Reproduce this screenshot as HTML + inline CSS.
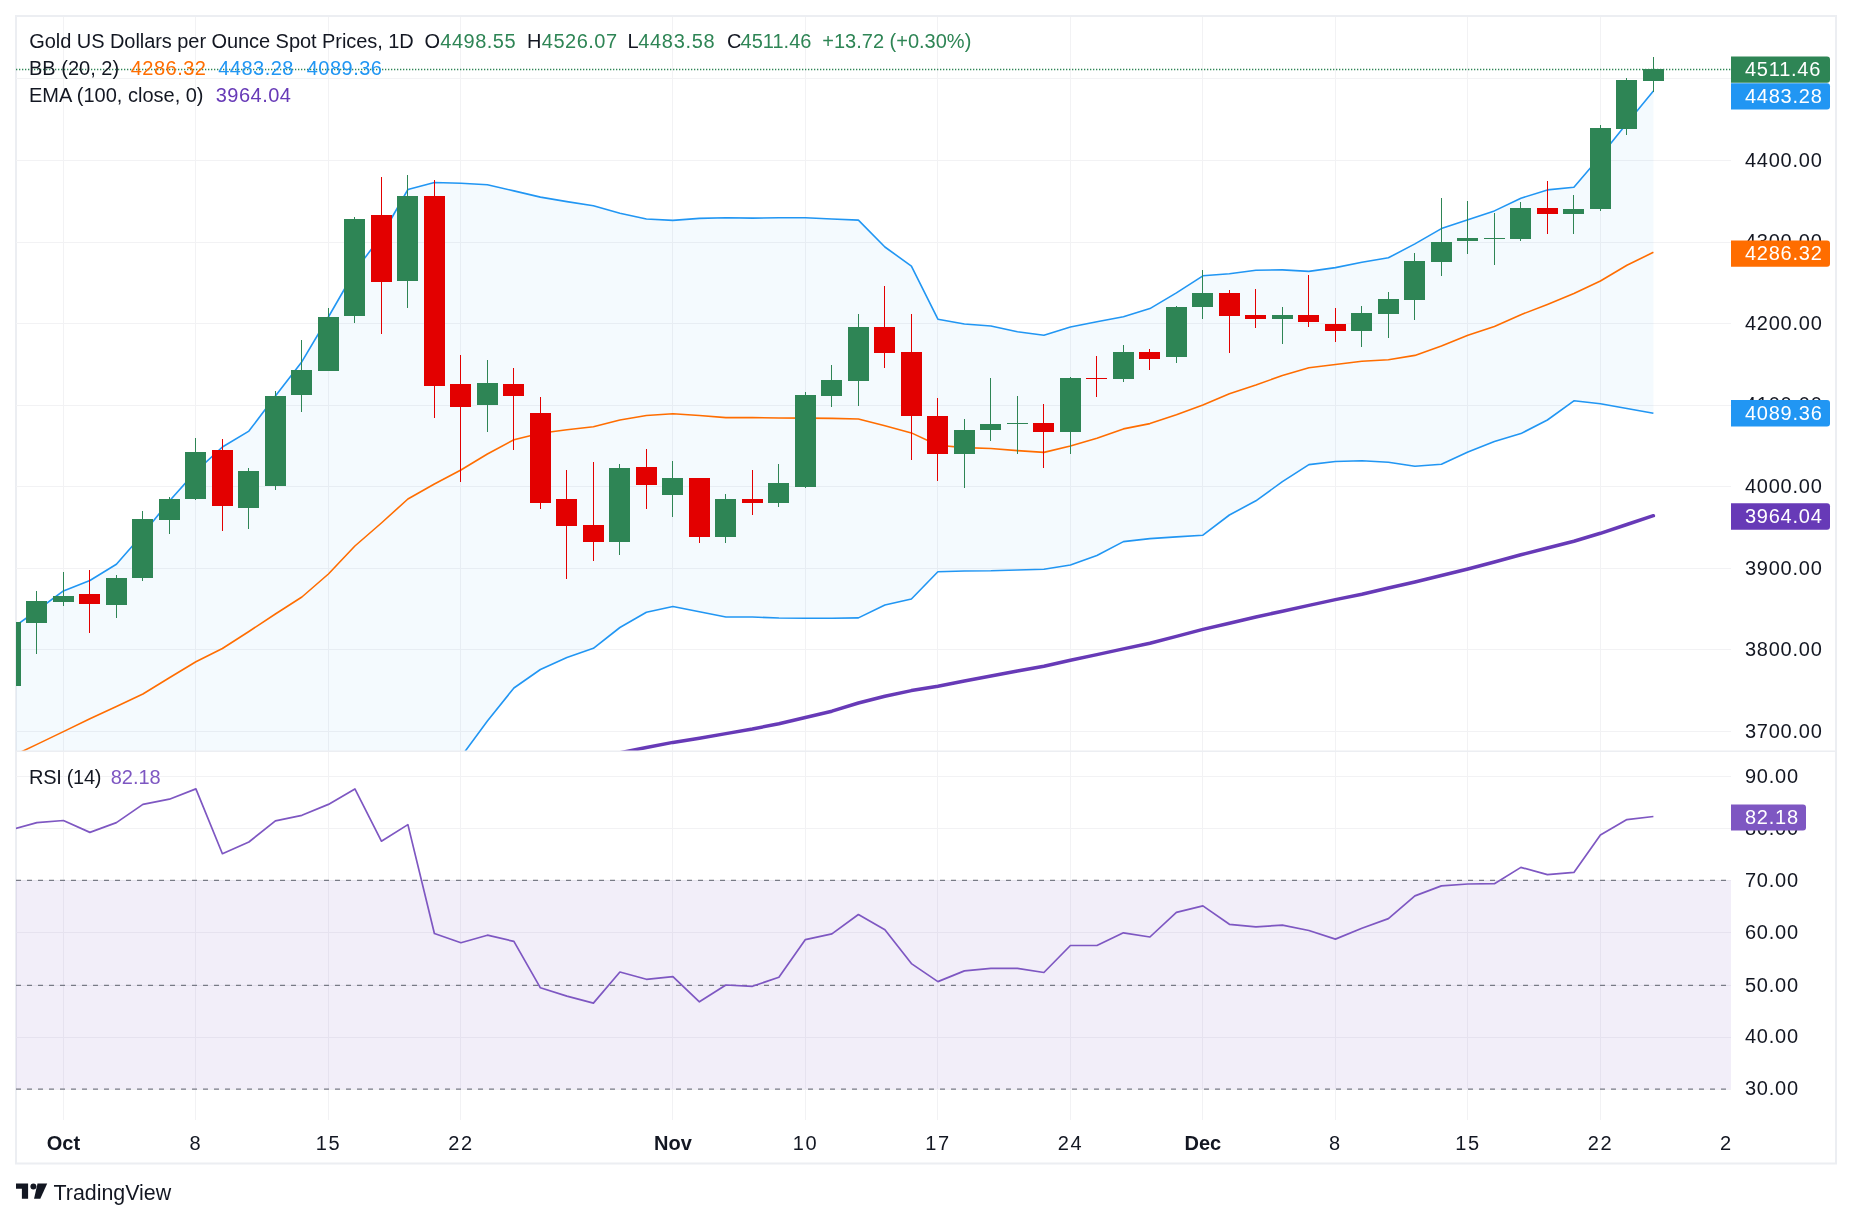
<!DOCTYPE html>
<html><head><meta charset="utf-8"><title>Gold US Dollars per Ounce Spot Prices, 1D - TradingView</title>
<style>html,body{margin:0;padding:0;background:#fff;}svg{display:block;will-change:transform;}</style></head>
<body>
<svg width="1852" height="1220" viewBox="0 0 1852 1220">
<defs><clipPath id="cm"><rect x="16" y="17" width="1715" height="734"/></clipPath>
<clipPath id="cr"><rect x="16" y="752" width="1715" height="368"/></clipPath></defs>
<rect width="1852" height="1220" fill="#fff"/>
<rect x="15" y="15" width="1822" height="2" fill="#ECEEF2"/>
<rect x="15" y="1162.5" width="1822" height="2" fill="#ECEEF2"/>
<rect x="15" y="15" width="2" height="1149" fill="#ECEEF2"/>
<rect x="1835" y="15" width="2" height="1149" fill="#ECEEF2"/>
<rect x="63" y="17" width="1" height="734" fill="#F2F2F4"/>
<rect x="63" y="752" width="1" height="368" fill="#F2F2F4"/>
<rect x="195" y="17" width="1" height="734" fill="#F2F2F4"/>
<rect x="195" y="752" width="1" height="368" fill="#F2F2F4"/>
<rect x="328" y="17" width="1" height="734" fill="#F2F2F4"/>
<rect x="328" y="752" width="1" height="368" fill="#F2F2F4"/>
<rect x="460" y="17" width="1" height="734" fill="#F2F2F4"/>
<rect x="460" y="752" width="1" height="368" fill="#F2F2F4"/>
<rect x="672" y="17" width="1" height="734" fill="#F2F2F4"/>
<rect x="672" y="752" width="1" height="368" fill="#F2F2F4"/>
<rect x="805" y="17" width="1" height="734" fill="#F2F2F4"/>
<rect x="805" y="752" width="1" height="368" fill="#F2F2F4"/>
<rect x="937" y="17" width="1" height="734" fill="#F2F2F4"/>
<rect x="937" y="752" width="1" height="368" fill="#F2F2F4"/>
<rect x="1070" y="17" width="1" height="734" fill="#F2F2F4"/>
<rect x="1070" y="752" width="1" height="368" fill="#F2F2F4"/>
<rect x="1202" y="17" width="1" height="734" fill="#F2F2F4"/>
<rect x="1202" y="752" width="1" height="368" fill="#F2F2F4"/>
<rect x="1335" y="17" width="1" height="734" fill="#F2F2F4"/>
<rect x="1335" y="752" width="1" height="368" fill="#F2F2F4"/>
<rect x="1467" y="17" width="1" height="734" fill="#F2F2F4"/>
<rect x="1467" y="752" width="1" height="368" fill="#F2F2F4"/>
<rect x="1600" y="17" width="1" height="734" fill="#F2F2F4"/>
<rect x="1600" y="752" width="1" height="368" fill="#F2F2F4"/>
<rect x="16" y="78" width="1715" height="1" fill="#F2F2F4"/>
<rect x="16" y="160" width="1715" height="1" fill="#F2F2F4"/>
<rect x="16" y="242" width="1715" height="1" fill="#F2F2F4"/>
<rect x="16" y="323" width="1715" height="1" fill="#F2F2F4"/>
<rect x="16" y="405" width="1715" height="1" fill="#F2F2F4"/>
<rect x="16" y="486" width="1715" height="1" fill="#F2F2F4"/>
<rect x="16" y="568" width="1715" height="1" fill="#F2F2F4"/>
<rect x="16" y="649" width="1715" height="1" fill="#F2F2F4"/>
<rect x="16" y="731" width="1715" height="1" fill="#F2F2F4"/>
<g clip-path="url(#cm)">
<polygon points="10.4,629.5 36.9,610.5 63.4,590.9 89.9,580.5 116.4,564.3 142.9,534.0 169.4,501.0 195.9,471.4 222.4,447.0 248.9,431.1 275.4,396.1 301.9,361.7 328.4,317.0 354.9,271.0 381.4,236.0 407.9,189.5 434.4,182.5 460.9,183.3 487.4,184.7 513.9,190.9 540.4,197.1 566.9,201.6 593.4,205.8 619.9,213.3 646.4,219.0 672.9,220.4 699.4,218.4 725.9,217.8 752.4,218.1 778.9,217.8 805.4,217.8 831.9,219.0 858.4,220.1 884.9,247.0 911.4,266.1 937.9,319.2 964.4,324.0 990.9,326.0 1017.4,331.7 1043.9,335.3 1070.4,327.0 1096.9,321.8 1123.4,316.8 1149.9,308.6 1176.4,292.9 1202.9,275.8 1229.4,273.7 1255.9,270.2 1282.4,269.9 1308.9,271.4 1335.4,267.6 1361.9,262.2 1388.4,257.8 1414.9,243.9 1441.4,228.6 1467.9,219.7 1494.4,210.9 1520.9,198.2 1547.4,189.9 1573.9,187.3 1600.4,156.2 1626.9,123.2 1653.4,91.0 1653.4,413.3 1626.9,408.5 1600.4,403.8 1573.9,400.8 1547.4,420.0 1520.9,433.6 1494.4,441.5 1467.9,451.9 1441.4,464.2 1414.9,466.3 1388.4,462.2 1361.9,460.7 1335.4,461.5 1308.9,464.6 1282.4,481.7 1255.9,500.8 1229.4,515.0 1202.9,535.2 1176.4,536.9 1149.9,538.6 1123.4,541.6 1096.9,555.5 1070.4,565.0 1043.9,569.2 1017.4,570.0 990.9,570.8 964.4,571.0 937.9,571.7 911.4,599.0 884.9,605.0 858.4,617.9 831.9,618.3 805.4,618.2 778.9,618.0 752.4,617.0 725.9,617.0 699.4,611.7 672.9,606.5 646.4,612.2 619.9,627.5 593.4,648.3 566.9,657.4 540.4,669.5 513.9,688.0 487.4,721.0 460.9,757.0 434.4,790.0 407.9,800.0 381.4,820.0 354.9,840.0 328.4,860.0 301.9,880.0 275.4,900.0 248.9,920.0 222.4,940.0 195.9,960.0 169.4,980.0 142.9,1000.0 116.4,1020.0 89.9,1040.0 63.4,1060.0 36.9,1080.0 10.4,1100.0" fill="#2196F3" fill-opacity="0.05"/>
<polyline points="10.4,629.5 36.9,610.5 63.4,590.9 89.9,580.5 116.4,564.3 142.9,534.0 169.4,501.0 195.9,471.4 222.4,447.0 248.9,431.1 275.4,396.1 301.9,361.7 328.4,317.0 354.9,271.0 381.4,236.0 407.9,189.5 434.4,182.5 460.9,183.3 487.4,184.7 513.9,190.9 540.4,197.1 566.9,201.6 593.4,205.8 619.9,213.3 646.4,219.0 672.9,220.4 699.4,218.4 725.9,217.8 752.4,218.1 778.9,217.8 805.4,217.8 831.9,219.0 858.4,220.1 884.9,247.0 911.4,266.1 937.9,319.2 964.4,324.0 990.9,326.0 1017.4,331.7 1043.9,335.3 1070.4,327.0 1096.9,321.8 1123.4,316.8 1149.9,308.6 1176.4,292.9 1202.9,275.8 1229.4,273.7 1255.9,270.2 1282.4,269.9 1308.9,271.4 1335.4,267.6 1361.9,262.2 1388.4,257.8 1414.9,243.9 1441.4,228.6 1467.9,219.7 1494.4,210.9 1520.9,198.2 1547.4,189.9 1573.9,187.3 1600.4,156.2 1626.9,123.2 1653.4,91.0" fill="none" stroke="#2196F3" stroke-width="1.6" stroke-linejoin="round"/>
<polyline points="10.4,1100.0 36.9,1080.0 63.4,1060.0 89.9,1040.0 116.4,1020.0 142.9,1000.0 169.4,980.0 195.9,960.0 222.4,940.0 248.9,920.0 275.4,900.0 301.9,880.0 328.4,860.0 354.9,840.0 381.4,820.0 407.9,800.0 434.4,790.0 460.9,757.0 487.4,721.0 513.9,688.0 540.4,669.5 566.9,657.4 593.4,648.3 619.9,627.5 646.4,612.2 672.9,606.5 699.4,611.7 725.9,617.0 752.4,617.0 778.9,618.0 805.4,618.2 831.9,618.3 858.4,617.9 884.9,605.0 911.4,599.0 937.9,571.7 964.4,571.0 990.9,570.8 1017.4,570.0 1043.9,569.2 1070.4,565.0 1096.9,555.5 1123.4,541.6 1149.9,538.6 1176.4,536.9 1202.9,535.2 1229.4,515.0 1255.9,500.8 1282.4,481.7 1308.9,464.6 1335.4,461.5 1361.9,460.7 1388.4,462.2 1414.9,466.3 1441.4,464.2 1467.9,451.9 1494.4,441.5 1520.9,433.6 1547.4,420.0 1573.9,400.8 1600.4,403.8 1626.9,408.5 1653.4,413.3" fill="none" stroke="#2196F3" stroke-width="1.6" stroke-linejoin="round"/>
<polyline points="10.4,757.0 36.9,744.4 63.4,731.6 89.9,718.8 116.4,706.5 142.9,694.0 169.4,677.8 195.9,661.8 222.4,648.5 248.9,631.5 275.4,614.0 301.9,597.0 328.4,574.0 354.9,546.0 381.4,523.0 407.9,499.0 434.4,484.0 460.9,470.0 487.4,454.0 513.9,439.7 540.4,433.2 566.9,429.7 593.4,426.8 619.9,420.0 646.4,415.5 672.9,413.8 699.4,415.5 725.9,417.6 752.4,417.6 778.9,418.0 805.4,418.1 831.9,418.4 858.4,419.0 884.9,425.8 911.4,432.9 937.9,445.3 964.4,447.6 990.9,448.5 1017.4,450.6 1043.9,452.4 1070.4,446.0 1096.9,438.3 1123.4,428.9 1149.9,423.6 1176.4,414.8 1202.9,405.0 1229.4,393.8 1255.9,385.0 1282.4,375.5 1308.9,367.8 1335.4,364.5 1361.9,361.3 1388.4,359.8 1414.9,355.4 1441.4,346.0 1467.9,335.3 1494.4,326.5 1520.9,314.7 1547.4,304.4 1573.9,293.5 1600.4,281.0 1626.9,265.2 1653.4,252.3" fill="none" stroke="#FF6D00" stroke-width="1.6" stroke-linejoin="round"/>
<polyline points="566.9,763.0 593.4,757.8 619.9,752.8 646.4,747.5 672.9,742.4 699.4,738.3 725.9,733.6 752.4,729.0 778.9,723.7 805.4,717.5 831.9,711.2 858.4,703.0 884.9,696.2 911.4,690.6 937.9,686.2 964.4,681.0 990.9,676.0 1017.4,671.0 1043.9,666.2 1070.4,660.3 1096.9,654.6 1123.4,648.9 1149.9,643.3 1176.4,636.4 1202.9,629.4 1229.4,623.2 1255.9,617.0 1282.4,611.2 1308.9,605.4 1335.4,599.6 1361.9,594.2 1388.4,588.0 1414.9,582.0 1441.4,575.5 1467.9,569.0 1494.4,562.0 1520.9,554.8 1547.4,548.0 1573.9,541.3 1600.4,533.3 1626.9,524.5 1653.4,515.7" fill="none" stroke="#673AB7" stroke-width="3.5" stroke-linejoin="round" stroke-linecap="round"/>
<rect x="10" y="618" width="1" height="72" fill="#2E8555"/>
<rect x="0" y="622" width="21" height="64" fill="#2E8555"/>
<rect x="36" y="591" width="1" height="63" fill="#2E8555"/>
<rect x="26" y="601" width="21" height="22" fill="#2E8555"/>
<rect x="63" y="572" width="1" height="34" fill="#2E8555"/>
<rect x="53" y="596" width="21" height="6" fill="#2E8555"/>
<rect x="89" y="570" width="1" height="63" fill="#E30000"/>
<rect x="79" y="594" width="21" height="10" fill="#E30000"/>
<rect x="116" y="575" width="1" height="43" fill="#2E8555"/>
<rect x="106" y="578" width="21" height="27" fill="#2E8555"/>
<rect x="142" y="511" width="1" height="70" fill="#2E8555"/>
<rect x="132" y="519" width="21" height="59" fill="#2E8555"/>
<rect x="169" y="497" width="1" height="37" fill="#2E8555"/>
<rect x="159" y="499" width="21" height="21" fill="#2E8555"/>
<rect x="195" y="438" width="1" height="62" fill="#2E8555"/>
<rect x="185" y="452" width="21" height="47" fill="#2E8555"/>
<rect x="222" y="439" width="1" height="92" fill="#E30000"/>
<rect x="212" y="450" width="21" height="56" fill="#E30000"/>
<rect x="248" y="468" width="1" height="61" fill="#2E8555"/>
<rect x="238" y="471" width="21" height="37" fill="#2E8555"/>
<rect x="275" y="391" width="1" height="99" fill="#2E8555"/>
<rect x="265" y="396" width="21" height="90" fill="#2E8555"/>
<rect x="301" y="340" width="1" height="72" fill="#2E8555"/>
<rect x="291" y="370" width="21" height="25" fill="#2E8555"/>
<rect x="328" y="308" width="1" height="63" fill="#2E8555"/>
<rect x="318" y="317" width="21" height="54" fill="#2E8555"/>
<rect x="354" y="217" width="1" height="106" fill="#2E8555"/>
<rect x="344" y="219" width="21" height="97" fill="#2E8555"/>
<rect x="381" y="177" width="1" height="157" fill="#E30000"/>
<rect x="371" y="215" width="21" height="67" fill="#E30000"/>
<rect x="407" y="175" width="1" height="133" fill="#2E8555"/>
<rect x="397" y="196" width="21" height="85" fill="#2E8555"/>
<rect x="434" y="180" width="1" height="238" fill="#E30000"/>
<rect x="424" y="196" width="21" height="190" fill="#E30000"/>
<rect x="460" y="355" width="1" height="127" fill="#E30000"/>
<rect x="450" y="384" width="21" height="23" fill="#E30000"/>
<rect x="487" y="360" width="1" height="72" fill="#2E8555"/>
<rect x="477" y="383" width="21" height="22" fill="#2E8555"/>
<rect x="513" y="368" width="1" height="82" fill="#E30000"/>
<rect x="503" y="384" width="21" height="12" fill="#E30000"/>
<rect x="540" y="397" width="1" height="112" fill="#E30000"/>
<rect x="530" y="413" width="21" height="90" fill="#E30000"/>
<rect x="566" y="470" width="1" height="109" fill="#E30000"/>
<rect x="556" y="499" width="21" height="27" fill="#E30000"/>
<rect x="593" y="462" width="1" height="99" fill="#E30000"/>
<rect x="583" y="525" width="21" height="17" fill="#E30000"/>
<rect x="619" y="464" width="1" height="91" fill="#2E8555"/>
<rect x="609" y="468" width="21" height="74" fill="#2E8555"/>
<rect x="646" y="449" width="1" height="60" fill="#E30000"/>
<rect x="636" y="467" width="21" height="18" fill="#E30000"/>
<rect x="672" y="461" width="1" height="56" fill="#2E8555"/>
<rect x="662" y="478" width="21" height="17" fill="#2E8555"/>
<rect x="699" y="478" width="1" height="65" fill="#E30000"/>
<rect x="689" y="478" width="21" height="59" fill="#E30000"/>
<rect x="725" y="494" width="1" height="49" fill="#2E8555"/>
<rect x="715" y="499" width="21" height="38" fill="#2E8555"/>
<rect x="752" y="470" width="1" height="45" fill="#E30000"/>
<rect x="742" y="499" width="21" height="4" fill="#E30000"/>
<rect x="778" y="464" width="1" height="43" fill="#2E8555"/>
<rect x="768" y="483" width="21" height="20" fill="#2E8555"/>
<rect x="805" y="392" width="1" height="96" fill="#2E8555"/>
<rect x="795" y="395" width="21" height="92" fill="#2E8555"/>
<rect x="831" y="365" width="1" height="42" fill="#2E8555"/>
<rect x="821" y="380" width="21" height="16" fill="#2E8555"/>
<rect x="858" y="314" width="1" height="92" fill="#2E8555"/>
<rect x="848" y="327" width="21" height="54" fill="#2E8555"/>
<rect x="884" y="286" width="1" height="82" fill="#E30000"/>
<rect x="874" y="327" width="21" height="26" fill="#E30000"/>
<rect x="911" y="314" width="1" height="146" fill="#E30000"/>
<rect x="901" y="352" width="21" height="64" fill="#E30000"/>
<rect x="937" y="398" width="1" height="83" fill="#E30000"/>
<rect x="927" y="416" width="21" height="38" fill="#E30000"/>
<rect x="964" y="419" width="1" height="69" fill="#2E8555"/>
<rect x="954" y="430" width="21" height="24" fill="#2E8555"/>
<rect x="990" y="378" width="1" height="63" fill="#2E8555"/>
<rect x="980" y="424" width="21" height="6" fill="#2E8555"/>
<rect x="1017" y="396" width="1" height="58" fill="#2E8555"/>
<rect x="1007" y="423" width="21" height="1" fill="#2E8555"/>
<rect x="1043" y="404" width="1" height="64" fill="#E30000"/>
<rect x="1033" y="423" width="21" height="9" fill="#E30000"/>
<rect x="1070" y="377" width="1" height="77" fill="#2E8555"/>
<rect x="1060" y="378" width="21" height="54" fill="#2E8555"/>
<rect x="1096" y="356" width="1" height="41" fill="#E30000"/>
<rect x="1086" y="378" width="21" height="1" fill="#E30000"/>
<rect x="1123" y="345" width="1" height="37" fill="#2E8555"/>
<rect x="1113" y="352" width="21" height="27" fill="#2E8555"/>
<rect x="1149" y="349" width="1" height="21" fill="#E30000"/>
<rect x="1139" y="352" width="21" height="7" fill="#E30000"/>
<rect x="1176" y="306" width="1" height="57" fill="#2E8555"/>
<rect x="1166" y="307" width="21" height="50" fill="#2E8555"/>
<rect x="1202" y="270" width="1" height="49" fill="#2E8555"/>
<rect x="1192" y="293" width="21" height="14" fill="#2E8555"/>
<rect x="1229" y="290" width="1" height="63" fill="#E30000"/>
<rect x="1219" y="293" width="21" height="23" fill="#E30000"/>
<rect x="1255" y="289" width="1" height="39" fill="#E30000"/>
<rect x="1245" y="315" width="21" height="4" fill="#E30000"/>
<rect x="1282" y="307" width="1" height="37" fill="#2E8555"/>
<rect x="1272" y="315" width="21" height="4" fill="#2E8555"/>
<rect x="1308" y="275" width="1" height="52" fill="#E30000"/>
<rect x="1298" y="315" width="21" height="7" fill="#E30000"/>
<rect x="1335" y="308" width="1" height="34" fill="#E30000"/>
<rect x="1325" y="324" width="21" height="7" fill="#E30000"/>
<rect x="1361" y="306" width="1" height="41" fill="#2E8555"/>
<rect x="1351" y="313" width="21" height="18" fill="#2E8555"/>
<rect x="1388" y="292" width="1" height="46" fill="#2E8555"/>
<rect x="1378" y="299" width="21" height="15" fill="#2E8555"/>
<rect x="1414" y="253" width="1" height="67" fill="#2E8555"/>
<rect x="1404" y="261" width="21" height="39" fill="#2E8555"/>
<rect x="1441" y="198" width="1" height="78" fill="#2E8555"/>
<rect x="1431" y="242" width="21" height="20" fill="#2E8555"/>
<rect x="1467" y="201" width="1" height="53" fill="#2E8555"/>
<rect x="1457" y="238" width="21" height="3" fill="#2E8555"/>
<rect x="1494" y="213" width="1" height="52" fill="#2E8555"/>
<rect x="1484" y="238" width="21" height="1" fill="#2E8555"/>
<rect x="1520" y="202" width="1" height="39" fill="#2E8555"/>
<rect x="1510" y="208" width="21" height="31" fill="#2E8555"/>
<rect x="1547" y="181" width="1" height="53" fill="#E30000"/>
<rect x="1537" y="208" width="21" height="6" fill="#E30000"/>
<rect x="1573" y="195" width="1" height="39" fill="#2E8555"/>
<rect x="1563" y="209" width="21" height="5" fill="#2E8555"/>
<rect x="1600" y="125" width="1" height="86" fill="#2E8555"/>
<rect x="1590" y="128" width="21" height="81" fill="#2E8555"/>
<rect x="1626" y="78" width="1" height="57" fill="#2E8555"/>
<rect x="1616" y="80" width="21" height="49" fill="#2E8555"/>
<rect x="1653" y="57" width="1" height="35" fill="#2E8555"/>
<rect x="1643" y="69" width="21" height="12" fill="#2E8555"/>
</g>
<line x1="16" y1="69.5" x2="1731" y2="69.5" stroke="#2E8555" stroke-width="1.3" stroke-dasharray="1.3 1.7"/>
<rect x="16" y="776" width="1715" height="1" fill="#F2F2F4"/>
<rect x="16" y="828" width="1715" height="1" fill="#F2F2F4"/>
<rect x="16" y="880" width="1715" height="1" fill="#F2F2F4"/>
<rect x="16" y="932" width="1715" height="1" fill="#F2F2F4"/>
<rect x="16" y="985" width="1715" height="1" fill="#F2F2F4"/>
<rect x="16" y="1037" width="1715" height="1" fill="#F2F2F4"/>
<rect x="16" y="1089" width="1715" height="1" fill="#F2F2F4"/>
<rect x="16" y="880.3" width="1715" height="208.8" fill="#7E57C2" fill-opacity="0.1"/>
<line x1="16" y1="880.3" x2="1731" y2="880.3" stroke="#787B86" stroke-width="1.2" stroke-dasharray="5 6"/>
<line x1="16" y1="985.4" x2="1731" y2="985.4" stroke="#787B86" stroke-width="1.2" stroke-dasharray="5 6"/>
<line x1="16" y1="1089.1" x2="1731" y2="1089.1" stroke="#787B86" stroke-width="1.2" stroke-dasharray="5 6"/>
<g clip-path="url(#cr)">
<polyline points="10.4,830.0 36.9,822.6 63.4,820.5 89.9,832.4 116.4,822.6 142.9,804.4 169.4,799.2 195.9,788.9 222.4,853.7 248.9,842.0 275.4,820.8 301.9,815.3 328.4,804.4 354.9,788.9 381.4,841.2 407.9,824.6 434.4,933.5 460.9,942.7 487.4,935.2 513.9,941.4 540.4,987.8 566.9,996.1 593.4,1003.1 619.9,972.0 646.4,979.3 672.9,976.7 699.4,1001.8 725.9,985.0 752.4,986.3 778.9,977.2 805.4,939.6 831.9,933.9 858.4,914.5 884.9,929.8 911.4,963.6 937.9,981.6 964.4,970.9 990.9,968.3 1017.4,968.3 1043.9,972.5 1070.4,945.5 1096.9,945.5 1123.4,932.8 1149.9,937.0 1176.4,912.4 1202.9,905.9 1229.4,924.3 1255.9,926.9 1282.4,925.1 1308.9,930.5 1335.4,939.1 1361.9,928.2 1388.4,918.6 1414.9,895.9 1441.4,885.9 1467.9,884.0 1494.4,883.7 1520.9,867.4 1547.4,874.6 1573.9,872.4 1600.4,835.1 1626.9,819.6 1653.4,816.5" fill="none" stroke="#7E57C2" stroke-width="1.7" stroke-linejoin="round"/>
</g>
<rect x="15" y="750.5" width="1822" height="1.5" fill="#ECEEF2"/>
<text x="1745" y="166.7" font-family="'Liberation Sans', Arial, sans-serif" font-size="20" fill="#131722" text-anchor="start" font-weight="normal" letter-spacing="0.75">4400.00</text>
<text x="1745" y="248.3" font-family="'Liberation Sans', Arial, sans-serif" font-size="20" fill="#131722" text-anchor="start" font-weight="normal" letter-spacing="0.75">4300.00</text>
<text x="1745" y="329.9" font-family="'Liberation Sans', Arial, sans-serif" font-size="20" fill="#131722" text-anchor="start" font-weight="normal" letter-spacing="0.75">4200.00</text>
<text x="1745" y="411.4" font-family="'Liberation Sans', Arial, sans-serif" font-size="20" fill="#131722" text-anchor="start" font-weight="normal" letter-spacing="0.75">4100.00</text>
<text x="1745" y="493.0" font-family="'Liberation Sans', Arial, sans-serif" font-size="20" fill="#131722" text-anchor="start" font-weight="normal" letter-spacing="0.75">4000.00</text>
<text x="1745" y="574.6" font-family="'Liberation Sans', Arial, sans-serif" font-size="20" fill="#131722" text-anchor="start" font-weight="normal" letter-spacing="0.75">3900.00</text>
<text x="1745" y="656.1" font-family="'Liberation Sans', Arial, sans-serif" font-size="20" fill="#131722" text-anchor="start" font-weight="normal" letter-spacing="0.75">3800.00</text>
<text x="1745" y="737.7" font-family="'Liberation Sans', Arial, sans-serif" font-size="20" fill="#131722" text-anchor="start" font-weight="normal" letter-spacing="0.75">3700.00</text>
<text x="1745" y="782.7" font-family="'Liberation Sans', Arial, sans-serif" font-size="20" fill="#131722" text-anchor="start" font-weight="normal" letter-spacing="0.75">90.00</text>
<text x="1745" y="834.6" font-family="'Liberation Sans', Arial, sans-serif" font-size="20" fill="#131722" text-anchor="start" font-weight="normal" letter-spacing="0.75">80.00</text>
<text x="1745" y="886.6" font-family="'Liberation Sans', Arial, sans-serif" font-size="20" fill="#131722" text-anchor="start" font-weight="normal" letter-spacing="0.75">70.00</text>
<text x="1745" y="938.8" font-family="'Liberation Sans', Arial, sans-serif" font-size="20" fill="#131722" text-anchor="start" font-weight="normal" letter-spacing="0.75">60.00</text>
<text x="1745" y="991.7" font-family="'Liberation Sans', Arial, sans-serif" font-size="20" fill="#131722" text-anchor="start" font-weight="normal" letter-spacing="0.75">50.00</text>
<text x="1745" y="1043.3" font-family="'Liberation Sans', Arial, sans-serif" font-size="20" fill="#131722" text-anchor="start" font-weight="normal" letter-spacing="0.75">40.00</text>
<text x="1745" y="1095.4" font-family="'Liberation Sans', Arial, sans-serif" font-size="20" fill="#131722" text-anchor="start" font-weight="normal" letter-spacing="0.75">30.00</text>
<path d="M1731,56.4 H1827 Q1830,56.4 1830,59.4 V79.8 Q1830,82.8 1827,82.8 H1731 Z" fill="#2E8555"/><text x="1745" y="75.9" font-family="'Liberation Sans', Arial, sans-serif" font-size="20" fill="#fff" text-anchor="start" font-weight="normal" letter-spacing="0.75">4511.46</text>
<path d="M1731,83.2 H1827 Q1830,83.2 1830,86.2 V106.6 Q1830,109.6 1827,109.6 H1731 Z" fill="#2196F3"/><text x="1745" y="102.7" font-family="'Liberation Sans', Arial, sans-serif" font-size="20" fill="#fff" text-anchor="start" font-weight="normal" letter-spacing="0.75">4483.28</text>
<path d="M1731,240.4 H1827 Q1830,240.4 1830,243.4 V263.8 Q1830,266.8 1827,266.8 H1731 Z" fill="#FF6D00"/><text x="1745" y="259.9" font-family="'Liberation Sans', Arial, sans-serif" font-size="20" fill="#fff" text-anchor="start" font-weight="normal" letter-spacing="0.75">4286.32</text>
<path d="M1731,400 H1827 Q1830,400 1830,403 V423.6 Q1830,426.6 1827,426.6 H1731 Z" fill="#2196F3"/><text x="1745" y="419.6" font-family="'Liberation Sans', Arial, sans-serif" font-size="20" fill="#fff" text-anchor="start" font-weight="normal" letter-spacing="0.75">4089.36</text>
<path d="M1731,503.2 H1827 Q1830,503.2 1830,506.2 V526.8 Q1830,529.8 1827,529.8 H1731 Z" fill="#673AB7"/><text x="1745" y="522.8" font-family="'Liberation Sans', Arial, sans-serif" font-size="20" fill="#fff" text-anchor="start" font-weight="normal" letter-spacing="0.75">3964.04</text>
<path d="M1731,804.4 H1803 Q1806,804.4 1806,807.4 V827.6 Q1806,830.6 1803,830.6 H1731 Z" fill="#7E57C2"/><text x="1745" y="823.8" font-family="'Liberation Sans', Arial, sans-serif" font-size="20" fill="#fff" text-anchor="start" font-weight="normal" letter-spacing="0.75">82.18</text>
<text x="63.4" y="1150" font-family="'Liberation Sans', Arial, sans-serif" font-size="20" fill="#131722" text-anchor="middle" font-weight="bold" >Oct</text>
<text x="195.9" y="1150" font-family="'Liberation Sans', Arial, sans-serif" font-size="20" fill="#131722" text-anchor="middle" font-weight="normal" letter-spacing="1.5">8</text>
<text x="328.4" y="1150" font-family="'Liberation Sans', Arial, sans-serif" font-size="20" fill="#131722" text-anchor="middle" font-weight="normal" letter-spacing="1.5">15</text>
<text x="460.9" y="1150" font-family="'Liberation Sans', Arial, sans-serif" font-size="20" fill="#131722" text-anchor="middle" font-weight="normal" letter-spacing="1.5">22</text>
<text x="672.9" y="1150" font-family="'Liberation Sans', Arial, sans-serif" font-size="20" fill="#131722" text-anchor="middle" font-weight="bold" >Nov</text>
<text x="805.4" y="1150" font-family="'Liberation Sans', Arial, sans-serif" font-size="20" fill="#131722" text-anchor="middle" font-weight="normal" letter-spacing="1.5">10</text>
<text x="937.9" y="1150" font-family="'Liberation Sans', Arial, sans-serif" font-size="20" fill="#131722" text-anchor="middle" font-weight="normal" letter-spacing="1.5">17</text>
<text x="1070.4" y="1150" font-family="'Liberation Sans', Arial, sans-serif" font-size="20" fill="#131722" text-anchor="middle" font-weight="normal" letter-spacing="1.5">24</text>
<text x="1202.9" y="1150" font-family="'Liberation Sans', Arial, sans-serif" font-size="20" fill="#131722" text-anchor="middle" font-weight="bold" >Dec</text>
<text x="1335.4" y="1150" font-family="'Liberation Sans', Arial, sans-serif" font-size="20" fill="#131722" text-anchor="middle" font-weight="normal" letter-spacing="1.5">8</text>
<text x="1467.9" y="1150" font-family="'Liberation Sans', Arial, sans-serif" font-size="20" fill="#131722" text-anchor="middle" font-weight="normal" letter-spacing="1.5">15</text>
<text x="1600.4" y="1150" font-family="'Liberation Sans', Arial, sans-serif" font-size="20" fill="#131722" text-anchor="middle" font-weight="normal" letter-spacing="1.5">22</text>
<text x="1726.2" y="1150" font-family="'Liberation Sans', Arial, sans-serif" font-size="20" fill="#131722" text-anchor="middle" font-weight="normal" letter-spacing="1.5">2</text>
<text y="48" font-family="'Liberation Sans', Arial, sans-serif" font-size="20" fill="#131722"><tspan x="29.3" letter-spacing="-0.06">Gold US Dollars per Ounce Spot Prices, 1D</tspan><tspan x="424.5">O</tspan><tspan x="440.3" fill="#2E8555" letter-spacing="0.5">4498.55</tspan><tspan x="527">H</tspan><tspan x="541.8" fill="#2E8555" letter-spacing="0.5">4526.07</tspan><tspan x="627.5">L</tspan><tspan x="638.2" fill="#2E8555" letter-spacing="0.7">4483.58</tspan><tspan x="727">C</tspan><tspan x="740.6" fill="#2E8555">4511.46</tspan><tspan x="822.3" fill="#2E8555">+13.72 (+0.30%)</tspan></text>
<text y="75" font-family="'Liberation Sans', Arial, sans-serif" font-size="20" fill="#131722"><tspan x="29">BB (20, 2)</tspan><tspan x="130.7" fill="#FF6D00" letter-spacing="0.5">4286.32</tspan><tspan x="218.2" fill="#2196F3" letter-spacing="0.5">4483.28</tspan><tspan x="306.7" fill="#2196F3" letter-spacing="0.5">4089.36</tspan></text>
<text y="102" font-family="'Liberation Sans', Arial, sans-serif" font-size="20" fill="#131722"><tspan x="29">EMA (100, close, 0)</tspan><tspan x="215.7" fill="#673AB7" letter-spacing="0.5">3964.04</tspan></text>
<text y="783.7" font-family="'Liberation Sans', Arial, sans-serif" font-size="20" fill="#131722"><tspan x="29" letter-spacing="-0.3">RSI (14)</tspan><tspan x="110.7" fill="#7E57C2">82.18</tspan></text>
<path d="M16,1183.4 H28.1 V1198.7 H21.9 V1188.8 H16 Z" fill="#131722"/>
<circle cx="33.4" cy="1186.4" r="3" fill="#131722"/>
<path d="M37.5,1183.4 H47.2 L40.3,1198.7 H34.05 Z" fill="#131722"/>
<text x="53.5" y="1199.6" font-family="'Liberation Sans', Arial, sans-serif" font-size="21.4" fill="#131722" text-anchor="start" font-weight="normal" >TradingView</text>
</svg>
</body></html>
